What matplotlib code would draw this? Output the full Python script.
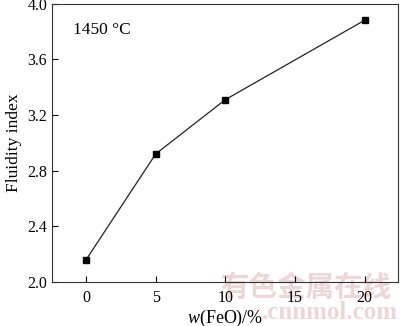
import matplotlib.pyplot as plt
from matplotlib import rcParams

rcParams["font.family"] = ["Liberation Serif", "DejaVu Serif"]
rcParams["mathtext.fontset"] = "custom"
rcParams["mathtext.it"] = "Liberation Serif:italic"
rcParams["mathtext.rm"] = "Liberation Serif"

# data
feo = [0, 5, 10, 20]
fluidity = [2.16, 2.92, 3.31, 3.88]
xticks = [0, 5, 10, 15, 20]
yticks = [2.0, 2.4, 2.8, 3.2, 3.6, 4.0]

fig = plt.figure(figsize=(4.0, 3.26), dpi=100)
ax = fig.add_axes([0.13, 0.135, 0.865, 0.854])
ax.set_zorder(1)
ax.patch.set_alpha(0)

ax.plot(feo, fluidity, color="#222222", lw=0.9, marker="s", ms=4.5,
        mfc="black", mec="black")

ax.set_xlim(-2.45, 22.4)
ax.set_ylim(2.0, 4.0)
ax.set_xticks(xticks)
ax.set_yticks(yticks)
ax.set_yticklabels(["%.1f" % v for v in yticks])
ax.tick_params(direction="in", labelsize=11.5, length=4.5, width=0.8)
ax.tick_params(axis="x", pad=6)
for s in ax.spines.values():
    s.set_linewidth(0.8)
    s.set_color("#333333")

ax.set_ylabel("Fluidity index", fontsize=12.5, labelpad=4)
ax.set_xlabel("$w$(FeO)/%", fontsize=13, labelpad=1)
ax.text(0.062, 0.905, "1450 °C", transform=ax.transAxes, fontsize=12.5, va="center")

# watermark, sits behind the axes
fig.text(0.764, 0.117, "有色金属在线", fontsize=20.5, color="#efd6d6",
         family=["Noto Sans CJK SC"], fontweight="bold",
         ha="center", va="center", zorder=0)
fig.text(0.995, 0.04, ".cnnmol.com", fontsize=18, color="#efd6d6",
         fontweight="bold", ha="right", va="center", zorder=0)

fig.savefig("out.png", dpi=100)
